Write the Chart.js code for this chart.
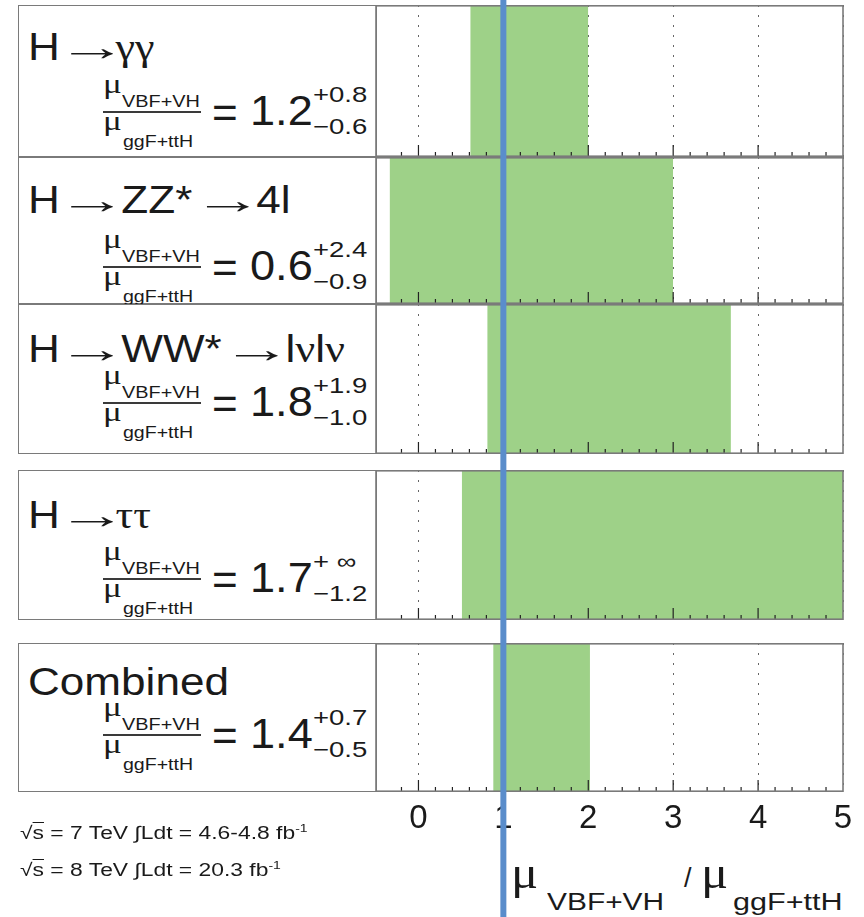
<!DOCTYPE html>
<html><head><meta charset="utf-8">
<script src="https://cdn.jsdelivr.net/npm/chart.js@4"></script>
<style>
html,body{margin:0;padding:0;background:#fff;}
#page{position:relative;width:864px;height:917px;overflow:hidden;font-family:"Liberation Sans",Arial,sans-serif;color:#1a1a1a;}
.box{position:absolute;left:18px;width:359px;border:1.5px solid #7a7a7a;box-sizing:border-box;}
.t{position:absolute;white-space:nowrap;line-height:1;transform-origin:0 50%;}
.g{font-family:"Liberation Serif","DejaVu Serif",serif;}
.arr{display:inline-block;width:36px;text-align:center;}
.arr>span{display:inline-block;transform:scaleX(1.6);}
.bar{position:absolute;height:1.5px;background:#3a3a3a;}
canvas{position:absolute;left:0;}
sup.s{font-size:11px;vertical-align:7px;line-height:0;}
</style></head><body><div id="page"></div>
<script>
// ---- data ----
const channels = ["H → γγ", "H → ZZ* → 4l", "H → WW* → lνlν", "H → ττ", "Combined"];
const centres  = [1.18, 0.60, 1.76, 1.69, 1.35];
const bandLow  = [0.61, -0.34, 0.81, 0.51, 0.88];
const bandHigh = [2.00, 3.00, 3.68, Infinity, 2.02];
const valueText = ["1.2", "0.6", "1.8", "1.7", "1.4"];
const upText    = ["+0.8", "+2.4", "+1.9", "+ ∞", "+0.7"];
const downText  = ["−0.6", "−0.9", "−1.0", "−1.2", "−0.5"];
const xTicks = [0, 1, 2, 3, 4, 5];
const smValue = 1;
const xMin = -0.5, xMax = 5;

// ---- layout ----
const panelTop = [5, 157, 304, 470, 643];
const panelBot = [157, 304, 454, 620, 792];
const titleBase = [60, 213, 362, 528, 695];
const eqMid = [110, 265, 401, 577, 733];
const GREEN = 'rgb(158,209,136)';
const BLUE = '#5a8dcb';
const PAD = {left: 376, right: 21, top: 0, bottom: 0};

const page = document.getElementById('page');
function addText(html, x, base, size, opts = {}) {
  const d = document.createElement('div');
  d.className = 't';
  const k = opts.serif ? 0.8375 : 0.8465;
  d.style.fontFamily = opts.serif ? '"Liberation Serif","DejaVu Serif",serif' : '"Liberation Sans",Arial,sans-serif';
  d.style.fontSize = size + 'px';
  d.style.left = x + 'px';
  d.style.top = (base - k * size) + 'px';
  if (opts.sx) d.style.transform = 'scaleX(' + opts.sx + ')';
  d.innerHTML = html;
  page.appendChild(d);
  return d;
}
function titleHTML(s) {
  const parts = s.split(' → ');
  let html = parts[0];
  for (let j = 1; j < parts.length; j++) {
    const greek = /^[γτν]/.test(parts[j]);
    html += '<span class="arr" style="margin:0 ' + (greek ? 3 : 8) + 'px 0 ' + (j > 1 ? 11 : 9) + 'px"><span>→</span></span>'
         + parts[j].replace(/[γτν]/g, m => '<span class="g">' + m + '</span>');
  }
  return html;
}

const frame = {
  id: 'frame',
  afterDraw(chart) {
    const ctx = chart.ctx, ca = chart.chartArea, xs = chart.scales.x;
    ctx.save();
    ctx.strokeStyle = '#222';
    ctx.lineWidth = 1.2;
    for (let k = Math.ceil(xMin * 5) + 1; k < xMax * 5; k++) {
      const px = xs.getPixelForValue(k / 5);
      const len = (k % 5 === 0) ? 12 : 5;
      ctx.beginPath(); ctx.moveTo(px, ca.bottom); ctx.lineTo(px, ca.bottom - len); ctx.stroke();
    }
    ctx.strokeStyle = '#7a7a7a';
    ctx.lineWidth = 1.6;
    ctx.strokeRect(ca.left, ca.top + 0.8, ca.right - ca.left, ca.bottom - ca.top - 1.6);
    ctx.restore();
  }
};

function panelChart(i, showTicks) {
  const h = panelBot[i] - panelTop[i] + (showTicks ? 45 : 0);
  const cv = document.createElement('canvas');
  cv.width = 864; cv.height = h; cv.style.top = panelTop[i] + 'px';
  page.appendChild(cv);
  const lo = Math.max(bandLow[i], xMin);
  const hi = Math.min(bandHigh[i], xMax);
  new Chart(cv, {
    type: 'scatter',
    data: {datasets: [
      {data: [{x: lo, y: 0}, {x: lo, y: 1}, {x: hi, y: 1}, {x: hi, y: 0}], showLine: true, fill: 'origin',
       backgroundColor: GREEN, borderColor: 'rgba(0,0,0,0)', borderWidth: 0, pointRadius: 0, tension: 0},
      {data: [{x: centres[i], y: 0}, {x: centres[i], y: 1}], showLine: true, fill: false,
       borderColor: '#111', borderWidth: 2, pointRadius: 0}
    ]},
    options: {
      responsive: false, animation: false, events: [],
      plugins: {legend: {display: false}, tooltip: {enabled: false}},
      layout: {padding: PAD},
      scales: {
        x: {type: 'linear', min: xMin, max: xMax, z: 1,
            afterBuildTicks: s => { s.ticks = xTicks.map(v => ({value: v})); },
            afterFit: s => { s.height = showTicks ? 45 : 0; },
            grid: {color: '#666', lineWidth: 1, drawTicks: false},
            border: {display: false, dash: [2, 8]},
            ticks: {display: showTicks, padding: 7, color: '#1a1a1a',
                     font: {size: 33, family: '"Liberation Sans", Arial, sans-serif'}}},
        y: {type: 'linear', min: 0, max: 1, display: false}
      }
    },
    plugins: [frame]
  });
}

channels.forEach((name, i) => {
  const box = document.createElement('div');
  box.className = 'box';
  box.style.top = panelTop[i] + 'px';
  box.style.height = (panelBot[i] - panelTop[i]) + 'px';
  page.appendChild(box);
  addText(titleHTML(name), 28, titleBase[i], 38, {sx: 1.16});
  const c = eqMid[i];
  addText('μ', 103, c - 16, 27, {serif: true, sx: 1.3});
  addText('VBF+VH', 122, c - 3, 17, {sx: 1.17});
  const bar = document.createElement('div');
  bar.className = 'bar';
  bar.style.left = '103px'; bar.style.width = '98px'; bar.style.top = (c + 1) + 'px';
  page.appendChild(bar);
  addText('μ', 103, c + 21, 27, {serif: true, sx: 1.3});
  addText('ggF+ttH', 123, c + 37, 17, {sx: 1.15});
  addText('=', 212, c + 18, 44);
  addText(valueText[i], 250, c + 15, 43, {sx: 1.05});
  addText(upText[i], 313, c - 7, 22, {sx: 1.25});
  addText(downText[i], 313, c + 25, 22, {sx: 1.25});
  panelChart(i, i === channels.length - 1);
});

// footnotes
addText('√<span style="text-decoration:overline">s</span> = 7 TeV ∫Ldt = 4.6-4.8 fb<sup class="s">-1</sup>', 20, 839, 18, {sx: 1.27});
addText('√<span style="text-decoration:overline">s</span> = 8 TeV ∫Ldt = 20.3 fb<sup class="s">-1</sup>', 20, 876, 18, {sx: 1.27});

// axis title
addText('μ', 511, 889, 46, {serif: true, sx: 1.1});
addText('VBF+VH', 547, 910, 23, {sx: 1.3});
addText('/', 684, 888, 27);
addText('μ', 701, 889, 46, {serif: true, sx: 1.1});
addText('ggF+ttH', 733, 910, 23, {sx: 1.33});

// SM reference line across the whole figure
const ov = document.createElement('canvas');
ov.width = 864; ov.height = 917; ov.style.top = '0px'; ov.style.pointerEvents = 'none'; ov.style.zIndex = 5;
page.appendChild(ov);
new Chart(ov, {
  type: 'scatter',
  data: {datasets: [{data: [{x: smValue, y: 0}, {x: smValue, y: 1}], showLine: true, borderColor: BLUE, borderWidth: 6, pointRadius: 0}]},
  options: {
    responsive: false, animation: false, events: [],
    plugins: {legend: {display: false}, tooltip: {enabled: false}},
    layout: {padding: PAD},
    scales: {x: {type: 'linear', min: xMin, max: xMax, display: false},
             y: {type: 'linear', min: 0, max: 1, display: false}}
  }
});
</script></body></html>
